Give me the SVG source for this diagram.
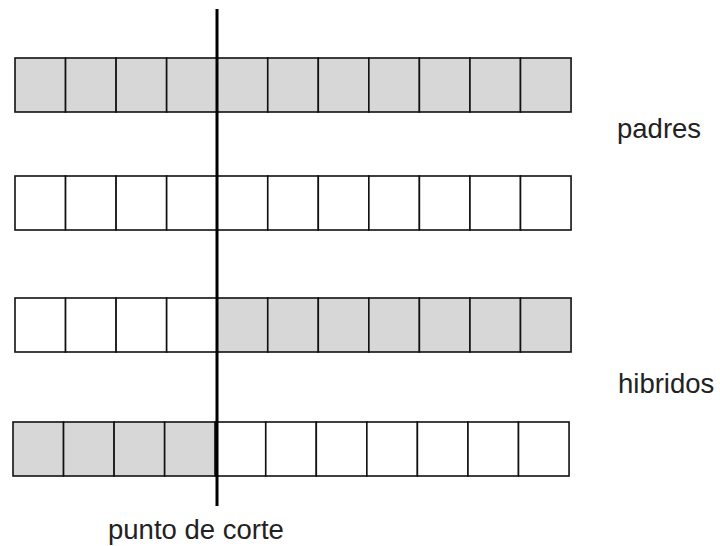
<svg xmlns="http://www.w3.org/2000/svg" width="720" height="546" viewBox="0 0 720 546">
<defs>
<style>
.g{fill:#d7d7d7;stroke:#111;stroke-width:1.6}
.w{fill:#fff;stroke:#111;stroke-width:1.6}
.t{font-family:"Liberation Sans",Arial,sans-serif;font-size:27.5px;fill:#222}
.cut{stroke:#000;stroke-width:3}
</style>
</defs>
<rect width="720" height="546" fill="#fff"/>
<g id="padre1">
<rect class="g" x="15" y="58" width="50.55" height="54"/>
<rect class="g" x="65.55" y="58" width="50.55" height="54"/>
<rect class="g" x="116.1" y="58" width="50.55" height="54"/>
<rect class="g" x="166.65" y="58" width="50.55" height="54"/>
<rect class="g" x="217.2" y="58" width="50.55" height="54"/>
<rect class="g" x="267.75" y="58" width="50.55" height="54"/>
<rect class="g" x="318.3" y="58" width="50.55" height="54"/>
<rect class="g" x="368.85" y="58" width="50.55" height="54"/>
<rect class="g" x="419.4" y="58" width="50.55" height="54"/>
<rect class="g" x="469.95" y="58" width="50.55" height="54"/>
<rect class="g" x="520.5" y="58" width="50.55" height="54"/>
</g>
<g id="padre2">
<rect class="w" x="15" y="176" width="50.55" height="54"/>
<rect class="w" x="65.55" y="176" width="50.55" height="54"/>
<rect class="w" x="116.1" y="176" width="50.55" height="54"/>
<rect class="w" x="166.65" y="176" width="50.55" height="54"/>
<rect class="w" x="217.2" y="176" width="50.55" height="54"/>
<rect class="w" x="267.75" y="176" width="50.55" height="54"/>
<rect class="w" x="318.3" y="176" width="50.55" height="54"/>
<rect class="w" x="368.85" y="176" width="50.55" height="54"/>
<rect class="w" x="419.4" y="176" width="50.55" height="54"/>
<rect class="w" x="469.95" y="176" width="50.55" height="54"/>
<rect class="w" x="520.5" y="176" width="50.55" height="54"/>
</g>
<g id="hibrido1">
<rect class="w" x="15" y="298" width="50.55" height="54"/>
<rect class="w" x="65.55" y="298" width="50.55" height="54"/>
<rect class="w" x="116.1" y="298" width="50.55" height="54"/>
<rect class="w" x="166.65" y="298" width="50.55" height="54"/>
<rect class="g" x="217.2" y="298" width="50.55" height="54"/>
<rect class="g" x="267.75" y="298" width="50.55" height="54"/>
<rect class="g" x="318.3" y="298" width="50.55" height="54"/>
<rect class="g" x="368.85" y="298" width="50.55" height="54"/>
<rect class="g" x="419.4" y="298" width="50.55" height="54"/>
<rect class="g" x="469.95" y="298" width="50.55" height="54"/>
<rect class="g" x="520.5" y="298" width="50.55" height="54"/>
</g>
<g id="hibrido2">
<rect class="g" x="13" y="422" width="50.55" height="54"/>
<rect class="g" x="63.55" y="422" width="50.55" height="54"/>
<rect class="g" x="114.1" y="422" width="50.55" height="54"/>
<rect class="g" x="164.65" y="422" width="50.55" height="54"/>
<rect class="w" x="215.2" y="422" width="50.55" height="54"/>
<rect class="w" x="265.75" y="422" width="50.55" height="54"/>
<rect class="w" x="316.3" y="422" width="50.55" height="54"/>
<rect class="w" x="366.85" y="422" width="50.55" height="54"/>
<rect class="w" x="417.4" y="422" width="50.55" height="54"/>
<rect class="w" x="467.95" y="422" width="50.55" height="54"/>
<rect class="w" x="518.5" y="422" width="50.55" height="54"/>
</g>
<g id="connectors">
<line class="cut" x1="217" y1="9" x2="217" y2="506"/>
</g>
<g id="labels">
<text class="t" x="617" y="138">padres</text>
<text class="t" x="618" y="393">hibridos</text>
<text class="t" x="108" y="539">punto de corte</text>
</g>
</svg>
